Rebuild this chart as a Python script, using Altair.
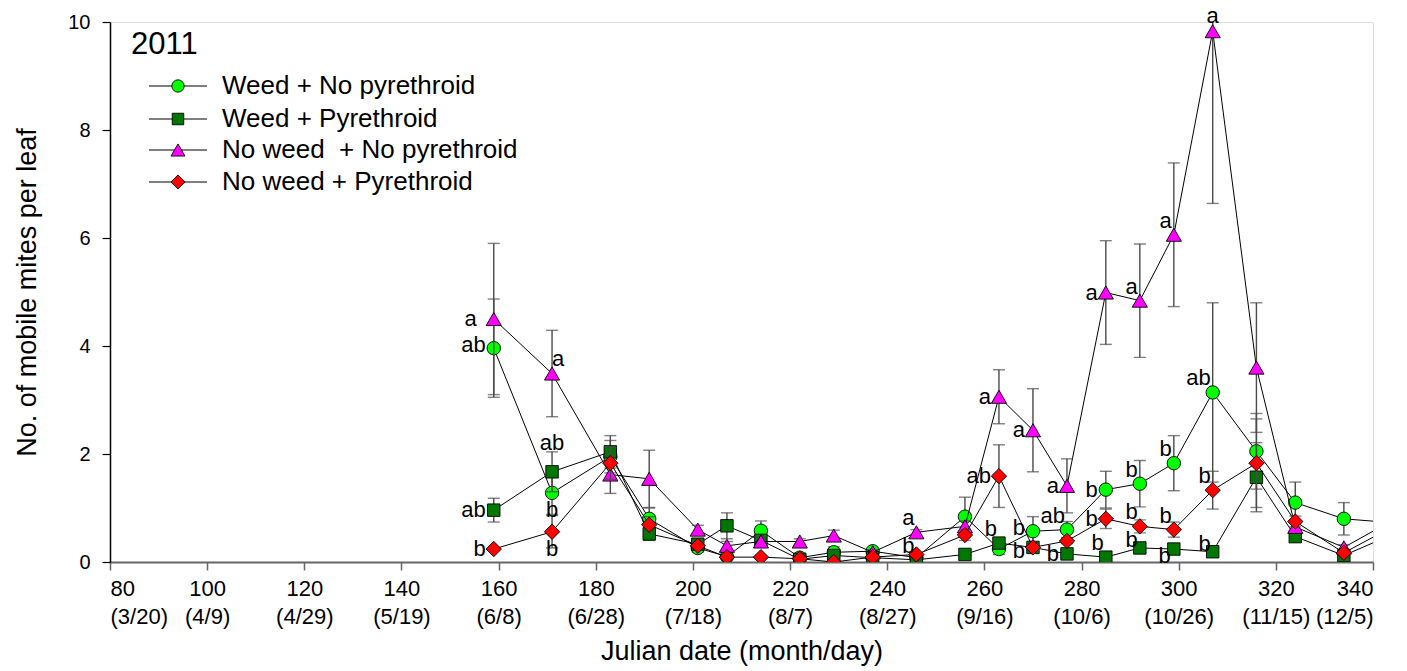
import altair as alt
import pandas as pd

# Julian sampling days (the last one lies just past the plotted range)
days = [159, 171, 183, 191, 201, 207, 214, 222, 229, 237, 246, 256, 263,
        270, 277, 285, 292, 299, 307, 316, 324, 334, 345]

# Mean mobile mites per leaf (and SE) for each treatment
weed_nopyr = [3.96, 1.28, 1.95, 0.80, 0.26, 0.10, 0.58, 0.08, 0.18, 0.20, 0.08, 0.84, 0.24,
              0.57, 0.60, 1.34, 1.45, 1.83, 3.14, 2.05, 1.10, 0.80, 0.72]
weed_nopyr_se = [0.91, 0.40, 0.30, 0.20, 0.08, 0.05, 0.18, 0.05, 0.10, 0.05, 0.05, 0.36, 0.10,
                 0.27, 0.15, 0.34, 0.43, 0.51, 1.66, 0.70, 0.38, 0.30, 0.10]

weed_pyr = [0.96, 1.67, 2.04, 0.52, 0.33, 0.67, 0.40, 0.05, 0.12, 0.08, 0.04, 0.14, 0.35,
            0.27, 0.15, 0.09, 0.26, 0.24, 0.19, 1.57, 0.47, 0.12, 0.55]
weed_pyr_se = [0.22, 0.37, 0.30, 0.12, 0.08, 0.24, 0.10, 0.03, 0.05, 0.03, 0.02, 0.05, 0.10,
               0.06, 0.05, 0.04, 0.06, 0.06, 0.05, 0.64, 0.10, 0.05, 0.10]

noweed_nopyr = [4.50, 3.49, 1.62, 1.54, 0.60, 0.30, 0.38, 0.38, 0.49, 0.18, 0.55, 0.66, 3.06,
                2.44, 1.41, 4.99, 4.84, 6.06, 9.83, 3.60, 0.65, 0.27, 0.82]
noweed_nopyr_se = [1.40, 0.80, 0.35, 0.53, 0.08, 0.08, 0.10, 0.05, 0.10, 0.05, 0.05, 0.10, 0.50,
                   0.77, 0.50, 0.96, 1.05, 1.33, 3.19, 1.20, 0.10, 0.05, 0.10]

noweed_pyr = [0.24, 0.56, 1.83, 0.69, 0.30, 0.09, 0.09, 0.06, 0.00, 0.09, 0.14, 0.50, 1.59,
              0.27, 0.39, 0.80, 0.66, 0.60, 1.33, 1.83, 0.75, 0.17, 0.70]
noweed_pyr_se = [0.00, 0.30, 0.30, 0.15, 0.05, 0.03, 0.03, 0.02, 0.00, 0.03, 0.03, 0.10, 0.58,
                 0.05, 0.05, 0.18, 0.12, 0.14, 0.35, 0.82, 0.10, 0.05, 0.10]

series_names = ["Weed + No pyrethroid", "Weed + Pyrethroid",
                "No weed \u00a0+ No pyrethroid", "No weed + Pyrethroid"]
series_means = [weed_nopyr, weed_pyr, noweed_nopyr, noweed_pyr]
series_se = [weed_nopyr_se, weed_pyr_se, noweed_nopyr_se, noweed_pyr_se]

# Mean-separation letters: (treatment index, day, letter, placement)
label_series = [0, 0, 0, 0, 0, 0, 0, 0,
                1, 1, 1, 1, 1, 1, 1, 1,
                2, 2, 2, 2, 2, 2, 2, 2, 2, 2,
                3, 3, 3, 3, 3, 3, 3, 3, 3]
label_days = [159, 171, 270, 277, 285, 292, 299, 307,
              159, 171, 263, 277, 285, 292, 299, 307,
              159, 171, 246, 263, 270, 277, 285, 292, 299, 307,
              159, 171, 246, 263, 270, 285, 292, 299, 307]
label_text = ["ab", "b", "b", "ab", "b", "b", "b", "ab",
              "ab", "ab", "b", "b", "b", "b", "b", "b",
              "a", "a", "a", "a", "a", "a", "a", "a", "a", "a",
              "b", "b", "b", "ab", "b", "b", "b", "b", "b"]
label_side = ["lefthigh", "down", "lefthigh", "upleft", "left", "upleft", "upleft", "upleft",
              "left", "upbar", "upleft", "left", "upleft", "upleftlow", "downleft", "upleftlow",
              "farleft", "upright", "upleft", "left", "left", "left", "left", "upleft", "upleft", "up",
              "left", "down", "upleftlow", "left", "leftlow", "left", "upleft", "upleft", "upleft"]

x_ticks = [80, 100, 120, 140, 160, 180, 200, 220, 240, 260, 280, 300, 320, 340]
x_dates = ["(3/20)", "(4/9)", "(4/29)", "(5/19)", "(6/8)", "(6/28)", "(7/18)",
           "(8/7)", "(8/27)", "(9/16)", "(10/6)", "(10/26)", "(11/15)", "(12/5)"]
y_ticks = [0, 2, 4, 6, 8, 10]

# marker styling per treatment
shapes = ["circle", "square", "triangle-up", "diamond"]
fills = ["#00ff00", "#007800", "#ff00ff", "#ff0000"]
sizes = [180, 155, 230, 235]

FONT = "Liberation Sans"

rows = []
for k, name in enumerate(series_names):
    for d, m, s in zip(days, series_means[k], series_se[k]):
        rows.append({"series": name, "k": k, "day": d, "mean": m, "se": s,
                     "lo": m - s, "hi": m + s})
df = pd.DataFrame(rows)

lab_rows = []
for k, d, t, side in zip(label_series, label_days, label_text, label_side):
    lab_rows.append({"day": d, "mean": series_means[k][days.index(d)], "txt": t, "side": side})
labels = pd.DataFrame(lab_rows)

date_arr = "[" + ",".join("'%s'" % s for s in x_dates) + "]"
x_axis = alt.Axis(values=x_ticks, title="Julian date (month/day)",
                  labelExpr="[format(datum.value, 'd'), " + date_arr + "[(datum.value - 80) / 20]]",
                  labelFontSize=22, labelLineHeight=28, labelPadding=8, labelColor="black",
                  tickSize=8, tickColor="#666666", tickWidth=1.5,
                  domainColor="#666666", domainWidth=2, grid=False,
                  titleFontSize=27, titlePadding=11, titleFontWeight="normal", titleColor="black",
                  labelFont=FONT, titleFont=FONT)
y_axis = alt.Axis(values=y_ticks, title="No. of mobile mites per leaf",
                  labelFontSize=20, labelPadding=12, labelColor="black",
                  tickSize=8, tickColor="black", tickWidth=1.2,
                  domainColor="black", domainWidth=1.5, grid=False,
                  titleFontSize=27, titlePadding=26, titleFontWeight="normal", titleColor="black",
                  labelFont=FONT, titleFont=FONT)
xs = alt.Scale(domain=[80, 340], nice=False, zero=False)
ys = alt.Scale(domain=[0, 10], nice=False)
X = alt.X("day:Q", scale=xs, axis=x_axis)
Y = alt.Y("mean:Q", scale=ys, axis=y_axis)

layers = []
for k, name in enumerate(series_names):
    sub = df[df["k"] == k]
    base = alt.Chart(sub)
    bars = sub[sub["se"] > 0]
    eb = alt.Chart(bars)
    layers.append(base.mark_line(color="black", strokeWidth=1, clip=True).encode(x=X, y=Y))
    layers.append(eb.mark_rule(color="#4a4a4a", strokeWidth=1.4, clip=True).encode(
        x=X, y=alt.Y("lo:Q", scale=ys, axis=y_axis), y2="hi:Q"))
    for end in ["lo", "hi"]:
        layers.append(eb.mark_tick(orient="horizontal", size=12, thickness=1.4,
                                   color="#4a4a4a", clip=True).encode(
            x=X, y=alt.Y(end + ":Q", scale=ys, axis=y_axis)))
    layers.append(base.mark_point(shape=shapes[k], size=sizes[k], filled=True, fill=fills[k],
                                  stroke="black", strokeWidth=0.9, opacity=1, fillOpacity=1,
                                  clip=True).encode(x=X, y=Y))

# letter placement offsets
sides = {
    "left": ("right", -8, 0),
    "lefthigh": ("right", -8, -3),
    "leftlow": ("right", -8, 4),
    "farleft": ("right", -17, 0),
    "upleft": ("right", -2, -14),
    "upleftlow": ("right", -2, -8),
    "up": ("center", 0, -15),
    "upbar": ("center", 0, -29),
    "upright": ("center", 6, -15),
    "down": ("center", 0, 17),
    "downleft": ("right", -3, 7),
}
for side, (al, dx, dy) in sides.items():
    sub = labels[labels["side"] == side]
    if len(sub) == 0:
        continue
    layers.append(alt.Chart(sub).mark_text(font=FONT, fontSize=22, color="black", align=al,
                                           baseline="middle", dx=dx, dy=dy).encode(
        x=X, y=Y, text="txt:N"))

# year tag
one = pd.DataFrame({"v": [0]})
layers.append(alt.Chart(one).mark_text(font=FONT, fontSize=31, color="black", align="left",
                                       baseline="alphabetic").encode(
    x=alt.value(21), y=alt.value(32), text=alt.value("2011")))

# legend: line + marker + text for each treatment
leg_y = [64, 97, 128, 160]
for k, name in enumerate(series_names):
    layers.append(alt.Chart(one).mark_rule(color="black", strokeWidth=1.2).encode(
        x=alt.value(39), x2=alt.value(97), y=alt.value(leg_y[k])))
    layers.append(alt.Chart(one).mark_point(shape=shapes[k], size=sizes[k] * 0.85, filled=True,
                                            fill=fills[k], stroke="black", strokeWidth=0.9,
                                            opacity=1).encode(
        x=alt.value(68), y=alt.value(leg_y[k])))
    layers.append(alt.Chart(one).mark_text(font=FONT, fontSize=26, color="black", align="left",
                                           baseline="middle").encode(
        x=alt.value(112), y=alt.value(leg_y[k]), text=alt.value(name)))

chart = alt.layer(*layers).properties(
    width=1263, height=540,
    padding={"left": 110, "top": 22, "right": 34, "bottom": 109},
    autosize=alt.AutoSizeParams(type="none"),
).configure_view(stroke=None).configure(background="white")

chart.save("out.html", embed_options={"renderer": "svg", "actions": False})
